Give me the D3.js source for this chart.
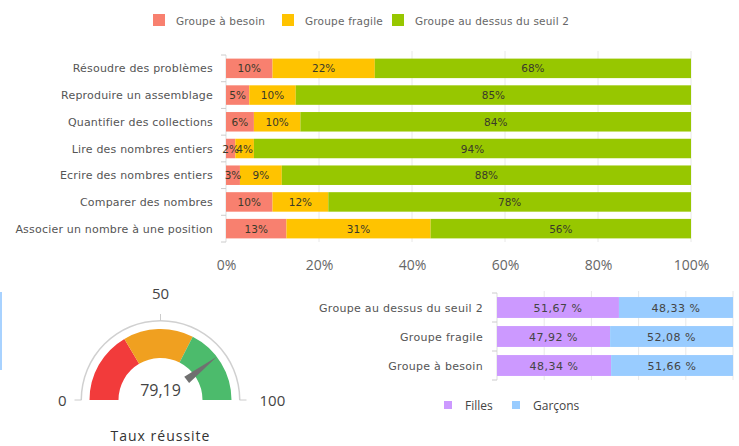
<!DOCTYPE html>
<html><head><meta charset="utf-8">
<script src="https://cdn.jsdelivr.net/npm/d3@7"></script>
<style>body{margin:0;background:#fff}svg{display:block;font-family:"Open Sans",sans-serif}</style>
</head><body>
<svg id="c" width="739" height="446"></svg>
<script>
// ---- Top chart data ----
const skills = ["Résoudre des problèmes","Reproduire un assemblage","Quantifier des collections","Lire des nombres entiers","Ecrire des nombres entiers","Comparer des nombres","Associer un nombre à une position"];
const groupNames = ["Groupe à besoin","Groupe fragile","Groupe au dessus du seuil 2"];
const besoin = [10,5,6,2,3,10,13];
const fragile = [22,10,10,4,9,12,31];
const auDessus = [68,85,84,94,88,78,56];
const topTicks = [0,20,40,60,80,100];
const groupColors = ["#F8806F","#FFC300","#97C700"];

// ---- Gender chart data ----
const genderCats = ["Groupe au dessus du seuil 2","Groupe fragile","Groupe à besoin"];
const genderNames = ["Filles","Garçons"];
const filles = [51.67,47.92,48.34];
const garcons = [48.33,52.08,51.66];
const genderTicks = [0,20,40,60,80,100];
const genderColors = ["#CC99FF","#99CCFF"];

// ---- Gauge data ----
const gaugeValue = 79.19;
const gaugeBands = [[0,33],[33,65],[65,100]];
const gaugeBandColors = ["#F23B3B","#F0A020","#4CBB6C"];
const gaugeTicks = [0,50,100];
const gaugeTitle = "Taux réussite";

const svg = d3.select("#c");
const fmtFr = v => v.toFixed(2).replace(".",",");
const SMALL = "DejaVu Sans";

// blue fragment at left edge
svg.append("rect").attr("x",0).attr("y",292).attr("width",2).attr("height",78).attr("fill","#A8D2FF");

// ===== Legend top =====
const legTop = svg.append("g");
const legX = [153,282,392];
groupNames.forEach((n,i)=>{
  legTop.append("rect").attr("x",legX[i]).attr("y",14).attr("width",12).attr("height",12).attr("fill",groupColors[i]);
  legTop.append("text").attr("x",legX[i]+23).attr("y",24.5).attr("font-family",SMALL).attr("font-size",10.5).attr("letter-spacing","0.2px").attr("fill","#666").text(n);
});

// ===== Top stacked bar chart =====
const x1 = d3.scaleLinear().domain([0,100]).range([226,691]);
const y1 = d3.scaleBand().domain(skills).range([55,242]).paddingInner(0.27).paddingOuter(0.135);
const rows = skills.map((s,i)=>({skill:s, b:besoin[i], f:fragile[i], a:auDessus[i]}));
const stack1 = d3.stack().keys(["b","f","a"])(rows);

const g1 = svg.append("g");
g1.selectAll("line.grid").data(topTicks.slice(1)).join("line")
  .attr("x1",d=>x1(d)).attr("x2",d=>x1(d)).attr("y1",51).attr("y2",242)
  .attr("stroke","#e8e8e8").attr("stroke-width",1);
g1.append("line").attr("x1",226).attr("x2",226).attr("y1",55).attr("y2",242).attr("stroke","#ddd");
const bounds1 = skills.map(s=>y1(s)-y1.step()*y1.paddingInner()/2).concat([242]);
g1.selectAll("line.tk").data(bounds1).join("line")
  .attr("x1",221).attr("x2",226).attr("y1",d=>d).attr("y2",d=>d).attr("stroke","#ccc");

stack1.forEach((layer,li)=>{
  g1.append("g").selectAll("rect").data(layer).join("rect")
    .attr("x",d=>x1(d[0])).attr("width",d=>x1(d[1])-x1(d[0]))
    .attr("y",d=>y1(d.data.skill)).attr("height",y1.bandwidth())
    .attr("fill",groupColors[li]);
});
stack1.forEach((layer,li)=>{
  g1.append("g").selectAll("text").data(layer).join("text")
    .attr("x",d=>(x1(d[0])+x1(d[1]))/2).attr("y",d=>y1(d.data.skill)+y1.bandwidth()/2+4)
    .attr("text-anchor","middle").attr("font-family",SMALL).attr("font-size",10.5).attr("fill","#3a3a2a")
    .text(d=>(d[1]-d[0])+"%");
});
g1.selectAll("text.cat").data(skills).join("text")
  .attr("x",213).attr("y",d=>y1(d)+y1.bandwidth()/2+4)
  .attr("text-anchor","end").attr("font-family",SMALL).attr("font-size",11).attr("letter-spacing","0.2px").attr("fill","#555").text(d=>d);
const ax1 = svg.append("g").attr("transform","translate(0,242)")
  .call(d3.axisBottom(x1).tickValues(topTicks).tickSize(0).tickPadding(18).tickFormat(d=>d+"%"));
ax1.select(".domain").remove();
ax1.selectAll("text").attr("font-size",14).attr("fill","#666").attr("font-family","Open Sans");

// ===== Gender chart =====
const x2 = d3.scaleLinear().domain([0,100]).range([497,733]);
const y2 = d3.scaleBand().domain(genderCats).range([293,380]).paddingInner(0.28).paddingOuter(0.14);
const rows2 = genderCats.map((c,i)=>({cat:c, f:filles[i], g:garcons[i]}));
const stack2 = d3.stack().keys(["f","g"])(rows2);
const g2 = svg.append("g");
g2.selectAll("line.grid").data(genderTicks.slice(1)).join("line")
  .attr("x1",d=>x2(d)).attr("x2",d=>x2(d)).attr("y1",291).attr("y2",380)
  .attr("stroke","#e8e8e8");
g2.append("line").attr("x1",497).attr("x2",497).attr("y1",293).attr("y2",380).attr("stroke","#ddd");
const bounds2 = genderCats.map(s=>y2(s)-y2.step()*y2.paddingInner()/2).concat([380]);
g2.selectAll("line.tk").data(bounds2).join("line")
  .attr("x1",492).attr("x2",497).attr("y1",d=>d).attr("y2",d=>d).attr("stroke","#ccc");
stack2.forEach((layer,li)=>{
  g2.append("g").selectAll("rect").data(layer).join("rect")
    .attr("x",d=>x2(d[0])).attr("width",d=>x2(d[1])-x2(d[0]))
    .attr("y",d=>y2(d.data.cat)).attr("height",y2.bandwidth())
    .attr("fill",genderColors[li]);
  g2.append("g").selectAll("text").data(layer).join("text")
    .attr("x",d=>(x2(d[0])+x2(d[1]))/2).attr("y",d=>y2(d.data.cat)+y2.bandwidth()/2+4)
    .attr("text-anchor","middle").attr("font-family",SMALL).attr("font-size",11).attr("letter-spacing","0.5px").attr("fill","#444")
    .text(d=>fmtFr(d[1]-d[0])+" %");
});
g2.selectAll("text.cat").data(genderCats).join("text")
  .attr("x",483).attr("y",d=>y2(d)+y2.bandwidth()/2+4)
  .attr("text-anchor","end").attr("font-family",SMALL).attr("font-size",11).attr("letter-spacing","0.3px").attr("fill","#555").text(d=>d);
const leg2X = [444,512];
genderNames.forEach((n,i)=>{
  svg.append("rect").attr("x",leg2X[i]).attr("y",401).attr("width",8).attr("height",8).attr("fill",genderColors[i]);
  svg.append("text").attr("x",leg2X[i]+21).attr("y",410).attr("font-size",12).attr("fill","#444").text(n);
});

// ===== Gauge =====
const cx = 160.5, cy = 400;
const ang = d3.scaleLinear().domain([0,100]).range([-Math.PI/2, Math.PI/2]);
const gg = svg.append("g").attr("transform",`translate(${cx},${cy})`);
gg.append("path").attr("d", d3.arc()({innerRadius:78.5,outerRadius:80,startAngle:ang(0),endAngle:ang(100)})).attr("fill","#d0d0d0");
gg.selectAll("path.band").data(gaugeBands).join("path")
  .attr("d",d=>d3.arc()({innerRadius:42,outerRadius:71,startAngle:ang(d[0]),endAngle:ang(d[1])}))
  .attr("fill",(d,i)=>gaugeBandColors[i]);
gg.selectAll("line.gt").data(gaugeTicks).join("line")
  .attr("x1",d=>79*Math.sin(ang(d))).attr("y1",d=>-79*Math.cos(ang(d)))
  .attr("x2",d=>86*Math.sin(ang(d))).attr("y2",d=>-86*Math.cos(ang(d)))
  .attr("stroke","#ccc").attr("stroke-width",1);
const labR = {0:94,50:101,100:99};
gg.selectAll("text.gl").data(gaugeTicks).join("text")
  .attr("x",d=>labR[d]*Math.sin(ang(d)))
  .attr("y",d=>d===50? -labR[d]*Math.cos(ang(d)) : 6)
  .attr("text-anchor",d=>d===0?"end":d===100?"start":"middle")
  .attr("font-size",15).attr("fill","#444").text(d=>d);
const a = ang(gaugeValue);
const ux = Math.sin(a), uy = -Math.cos(a), px = -uy, py = ux;
const pts = [[33*ux+4*px,33*uy+4*py],[71*ux,71*uy],[33*ux-4*px,33*uy-4*py]];
gg.append("path").attr("d","M"+pts.map(p=>p.join(",")).join("L")+"Z").attr("fill","#707070");
gg.append("text").attr("x",0).attr("y",-4).attr("text-anchor","middle").attr("font-size",16).attr("fill","#444").text(fmtFr(gaugeValue));
svg.append("text").attr("x",cx).attr("y",441).attr("text-anchor","middle").attr("font-size",14).attr("letter-spacing","1px").attr("fill","#333").text(gaugeTitle);
</script>
</body></html>
